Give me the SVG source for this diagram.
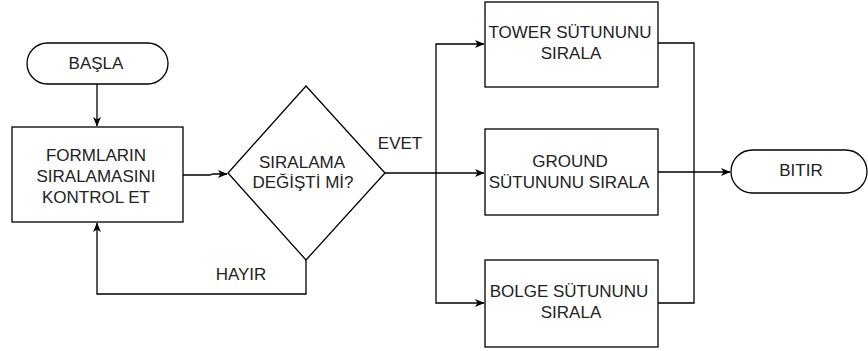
<svg xmlns="http://www.w3.org/2000/svg" width="868" height="351" viewBox="0 0 868 351">
<style>
.shape{fill:#fff;stroke:#000;stroke-width:1.3}
.edge{fill:none;stroke:#000;stroke-width:1.3}
text{font-family:"Liberation Sans",Arial,sans-serif;font-size:17px;fill:#222;text-anchor:middle}
</style>
<defs>
<marker id="ah" markerWidth="10" markerHeight="10" refX="9" refY="5" orient="auto" markerUnits="userSpaceOnUse">
<path d="M0,1 L9.5,5 L0,9 L2.5,5 z" fill="#000"/>
</marker>
</defs>
<rect width="868" height="351" fill="#fff"/>
<g id="connectors">
<path class="edge" d="M97,84 L97,126" marker-end="url(#ah)"/>
<path class="edge" d="M183,175 L210,175 L213,174 L227,174" marker-end="url(#ah)"/>
<path class="edge" d="M306,260 L306,294 L97,294 L97,223" marker-end="url(#ah)"/>
<path class="edge" d="M385,173 L484,173" marker-end="url(#ah)"/>
<path class="edge" d="M436,173 L436,44 L484,44" marker-end="url(#ah)"/>
<path class="edge" d="M436,173 L436,303 L484,303" marker-end="url(#ah)"/>
<path class="edge" d="M658,43 L694,43 L694,303 L658,303"/>
<path class="edge" d="M658,172 L730,172" marker-end="url(#ah)"/>
</g>
<g id="basla">
<rect class="shape" x="27" y="43" width="141" height="41" rx="20.5"/>
<text x="96" y="69">BAŞLA</text>
</g>
<g id="kontrol">
<rect class="shape" x="12" y="127" width="171" height="95"/>
<text x="96" y="161">FORMLARIN</text>
<text x="96" y="182">SIRALAMASINI</text>
<text x="96" y="203">KONTROL ET</text>
</g>
<g id="karar">
<polygon class="shape" points="306,86 385,173 306,260 228,173"/>
<text x="302" y="168">SIRALAMA</text>
<text x="303" y="188">DEĞİŞTİ Mİ?</text>
</g>
<g id="tower">
<rect class="shape" x="485" y="2" width="173" height="85"/>
<text x="570" y="38">TOWER SÜTUNUNU</text>
<text x="571" y="59">SIRALA</text>
</g>
<g id="ground">
<rect class="shape" x="485" y="129" width="173" height="86"/>
<text x="570" y="167">GROUND</text>
<text x="569" y="188">SÜTUNUNU SIRALA</text>
</g>
<g id="bolge">
<rect class="shape" x="485" y="260" width="173" height="87"/>
<text x="569" y="297">BOLGE SÜTUNUNU</text>
<text x="571" y="318">SIRALA</text>
</g>
<g id="bitir">
<rect class="shape" x="731" y="150" width="136" height="43" rx="21.5"/>
<text x="801" y="176">BITIR</text>
</g>
<g id="labels">
<text x="400" y="149">EVET</text>
<text x="241" y="280">HAYIR</text>
</g>
</svg>
